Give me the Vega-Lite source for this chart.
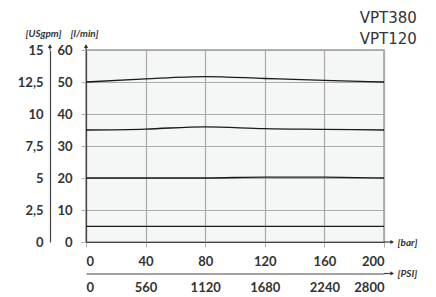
{
  "$schema": "https://vega.github.io/schema/vega-lite/v6.json",
  "width": 298,
  "height": 192,
  "autosize": "none",
  "padding": {"left": 86, "top": 50, "right": 52, "bottom": 55},
  "background": "white",
  "config": {
    "view": {"fill": "#f5f7f7", "stroke": "#9a9a9a", "strokeWidth": 1.5},
    "font": "Lato"
  },
  "title": {
    "text": "VPT380",
    "subtitle": "VPT120",
    "anchor": "end",
    "font": "DejaVu Sans",
    "fontSize": 15,
    "fontWeight": "normal",
    "color": "#333333",
    "subtitleFont": "DejaVu Sans",
    "subtitleFontSize": 15,
    "subtitleColor": "#333333",
    "subtitlePadding": 6,
    "offset": -19
  },
  "data": {"values": [{}]},
  "layer": [
    {
      "data": {
        "values": [
          {"curve": "A", "pressure": 0, "flow": 50},
          {"curve": "A", "pressure": 40, "flow": 51},
          {"curve": "A", "pressure": 80, "flow": 51.7},
          {"curve": "A", "pressure": 120, "flow": 51.1},
          {"curve": "A", "pressure": 160, "flow": 50.5},
          {"curve": "A", "pressure": 200, "flow": 50},
          {"curve": "B", "pressure": 0, "flow": 35},
          {"curve": "B", "pressure": 40, "flow": 35.3},
          {"curve": "B", "pressure": 80, "flow": 36},
          {"curve": "B", "pressure": 120, "flow": 35.4},
          {"curve": "B", "pressure": 160, "flow": 35.2},
          {"curve": "B", "pressure": 200, "flow": 35},
          {"curve": "C", "pressure": 0, "flow": 20},
          {"curve": "C", "pressure": 40, "flow": 20},
          {"curve": "C", "pressure": 80, "flow": 20},
          {"curve": "C", "pressure": 120, "flow": 20.3},
          {"curve": "C", "pressure": 160, "flow": 20.3},
          {"curve": "C", "pressure": 200, "flow": 20},
          {"curve": "D", "pressure": 0, "flow": 4.9},
          {"curve": "D", "pressure": 40, "flow": 4.9},
          {"curve": "D", "pressure": 80, "flow": 4.9},
          {"curve": "D", "pressure": 120, "flow": 4.9},
          {"curve": "D", "pressure": 160, "flow": 4.9},
          {"curve": "D", "pressure": 200, "flow": 4.9}
        ]
      },
      "mark": {"type": "line", "interpolate": "monotone", "color": "#1a1a1a", "strokeWidth": 1.3},
      "encoding": {
        "x": {
          "field": "pressure", "type": "quantitative",
          "scale": {"domain": [0, 200]},
          "axis": {
            "orient": "bottom", "values": [0, 40, 80, 120, 160, 200],
            "grid": true, "gridColor": "#a8a8a8", "gridWidth": 1.2,
            "domainColor": "#444444", "domainWidth": 1.2,
            "tickColor": "#b0b0b0", "tickSize": 5,
            "labelFont": "Lato", "labelFontWeight": "bold", "labelFontSize": 13, "labelColor": "#333333", "labelPadding": 8,
            "title": "[bar]", "titleAngle": 0, "titleX": 311, "titleY": 0,
            "titleAlign": "left", "titleBaseline": "middle",
            "titleFont": "Lato", "titleFontStyle": "italic", "titleFontWeight": "bold", "titleFontSize": 10, "titleColor": "#333333"
          }
        },
        "y": {
          "field": "flow", "type": "quantitative",
          "scale": {"domain": [0, 60]},
          "axis": {
            "orient": "left", "values": [0, 10, 20, 30, 40, 50, 60],
            "grid": true, "gridColor": "#a8a8a8", "gridWidth": 1.2,
            "domainColor": "#444444", "domainWidth": 1.2,
            "tickColor": "#b0b0b0", "tickSize": 5,
            "labelFont": "Lato", "labelFontWeight": "bold", "labelFontSize": 13, "labelColor": "#333333", "labelPadding": 9,
            "title": "[l/min]", "titleAngle": 0, "titleX": -2, "titleY": -17,
            "titleAlign": "center", "titleBaseline": "middle",
            "titleFont": "Lato", "titleFontStyle": "italic", "titleFontWeight": "bold", "titleFontSize": 10, "titleColor": "#333333"
          }
        },
        "detail": {"field": "curve"}
      }
    },
    {
      "mark": {"type": "rule", "color": "#444444", "strokeWidth": 1.2},
      "encoding": {
        "x": {"datum": -24.2, "type": "quantitative", "axis": null},
        "y": {
          "datum": 60, "type": "quantitative",
          "axis": {
            "orient": "left", "offset": 36, "values": [0, 10, 20, 30, 40, 50, 60],
            "labelExpr": "datum.value == 10 ? '2,5' : datum.value == 30 ? '7,5' : datum.value == 50 ? '12,5' : format(datum.value/4,'d')",
            "labelOverlap": false,
            "grid": false, "ticks": false,
            "domainColor": "#444444", "domainWidth": 1.2,
            "labelFont": "Lato", "labelFontWeight": "bold", "labelFontSize": 13, "labelColor": "#333333", "labelPadding": 7,
            "title": "[USgpm]", "titleAngle": 0, "titleX": -7, "titleY": -17,
            "titleAlign": "center", "titleBaseline": "middle",
            "titleFont": "Lato", "titleFontStyle": "italic", "titleFontWeight": "bold", "titleFontSize": 10, "titleColor": "#333333"
          }
        },
        "y2": {"datum": 61.5}
      }
    },
    {
      "mark": {"type": "rule", "color": "#444444", "strokeWidth": 1.2},
      "encoding": {
        "x": {
          "datum": 200, "type": "quantitative",
          "axis": {
            "orient": "bottom", "offset": 31.5, "values": [0, 40, 80, 120, 160, 200],
            "labelExpr": "format(datum.value*14,'d')",
            "labelOverlap": false,
            "grid": false, "ticks": false,
            "domainColor": "#444444", "domainWidth": 1.2,
            "labelFont": "Lato", "labelFontWeight": "bold", "labelFontSize": 13, "labelColor": "#333333", "labelPadding": 8,
            "title": "[PSI]", "titleAngle": 0, "titleX": 311, "titleY": 0,
            "titleAlign": "left", "titleBaseline": "middle",
            "titleFont": "Lato", "titleFontStyle": "italic", "titleFontWeight": "bold", "titleFontSize": 10, "titleColor": "#333333"
          }
        },
        "x2": {"datum": 206},
        "y": {"datum": -9.84, "type": "quantitative", "axis": null}
      }
    },
    {
      "layer": [
        {
          "mark": {"type": "rule", "color": "#444444", "strokeWidth": 1.2},
          "encoding": {
            "x": {"datum": 0, "type": "quantitative", "axis": null},
            "y": {"datum": 60, "type": "quantitative", "axis": null},
            "y2": {"datum": 61.5}
          }
        },
        {
          "mark": {"type": "rule", "color": "#444444", "strokeWidth": 1.2},
          "encoding": {
            "x": {"datum": 200, "type": "quantitative", "axis": null},
            "x2": {"datum": 206},
            "y": {"datum": 0, "type": "quantitative", "axis": null}
          }
        },
        {
          "mark": {"type": "point", "shape": "triangle-up", "filled": true, "color": "#333333", "size": 18, "opacity": 1},
          "encoding": {
            "x": {"datum": 0, "type": "quantitative", "axis": null},
            "y": {"datum": 61.2, "type": "quantitative", "axis": null}
          }
        },
        {
          "mark": {"type": "point", "shape": "triangle-up", "filled": true, "color": "#333333", "size": 18, "opacity": 1},
          "encoding": {
            "x": {"datum": -24.2, "type": "quantitative", "axis": null},
            "y": {"datum": 61.2, "type": "quantitative", "axis": null}
          }
        },
        {
          "mark": {"type": "point", "shape": "triangle-right", "filled": true, "color": "#333333", "size": 18, "opacity": 1},
          "encoding": {
            "x": {"datum": 205.5, "type": "quantitative", "axis": null},
            "y": {"datum": 0, "type": "quantitative", "axis": null}
          }
        },
        {
          "mark": {"type": "point", "shape": "triangle-right", "filled": true, "color": "#333333", "size": 18, "opacity": 1},
          "encoding": {
            "x": {"datum": 205.5, "type": "quantitative", "axis": null},
            "y": {"datum": -9.84, "type": "quantitative", "axis": null}
          }
        }
      ]
    }
  ],
  "resolve": {"axis": {"x": "independent", "y": "independent"}}
}
